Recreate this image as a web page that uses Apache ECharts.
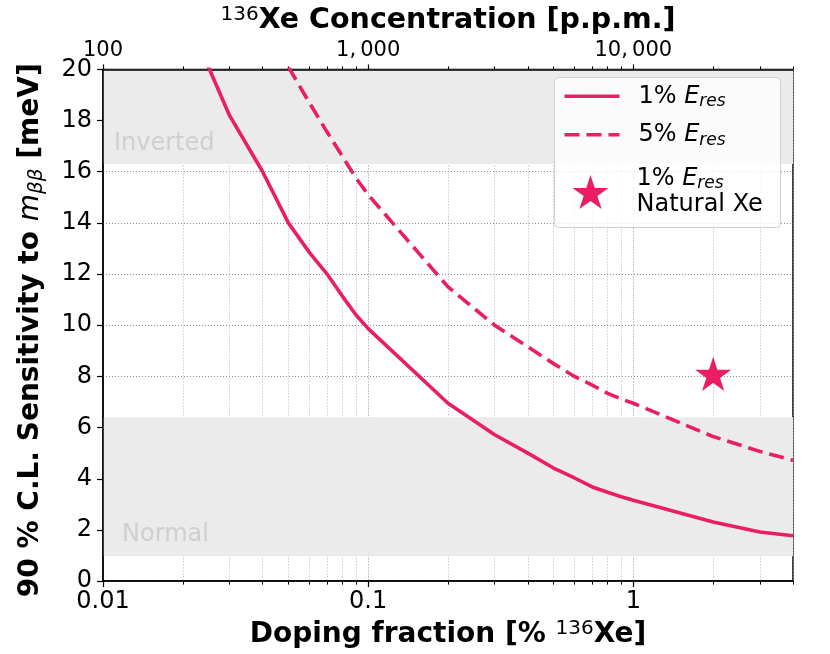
<!DOCTYPE html>
<html><head><meta charset="utf-8">
<script src="https://cdn.jsdelivr.net/npm/echarts@6/dist/echarts.min.js"></script>
<style>html,body{margin:0;padding:0;background:#fff}#c{width:830px;height:654px}</style>
</head><body><div id="c"></div>
<script>
// ---- data ----
const fractions1 = [0.02, 0.03, 0.04, 0.05, 0.06, 0.07, 0.08, 0.09, 0.1, 0.2, 0.3, 0.4, 0.5, 0.6, 0.7, 0.8, 0.9, 1, 2, 3, 4];
const sens1pct   = [22.4, 18.2, 16.0, 14.0, 12.85, 12.0, 11.13, 10.4, 9.87, 6.95, 5.72, 5.0, 4.42, 4.03, 3.68, 3.47, 3.3, 3.16, 2.31, 1.92, 1.77];
const fractions5 = [0.05, 0.06, 0.07, 0.08, 0.09, 0.1, 0.2, 0.3, 0.4, 0.5, 0.6, 0.7, 0.8, 0.9, 1, 2, 3, 4];
const sens5pct   = [20.1, 18.7, 17.55, 16.6, 15.75, 15.1, 11.5, 10.0, 9.16, 8.5, 8.0, 7.66, 7.34, 7.12, 6.95, 5.65, 5.07, 4.72];
const naturalXeFraction = [2];
const naturalXeSens = [8.1];
const seriesNames = ['1% Eres', '5% Eres', '1% Eres Natural Xe'];
const majorTicks = [0.01, 0.1, 1];
const minorTicks = [0.02, 0.03, 0.04, 0.05, 0.06, 0.07, 0.08, 0.09, 0.2, 0.3, 0.4, 0.5, 0.6, 0.7, 0.8, 0.9, 2, 3, 4];
const bandNames = ['Inverted', 'Normal'];
const bandFrom = [16.3, 0.97];
const bandTo = [20, 6.4];
const bandLabelX = [0.011, 0.0118];
const bandLabelY = [17.1, 1.8];

const PINK = '#E91E63';
const FONT = 'DejaVu Sans';

const xMin = 0.01, xMax = 4;

function fmtPpm(v) {
  const n = Math.round(v * 10000);
  return n.toLocaleString('en-US').replace(/,/g, ',\u2009');
}

const subRich = {
  n: { fontFamily: FONT, fontSize: 24, lineHeight: 28, color: '#000' },
  e: { fontFamily: FONT, fontSize: 24, lineHeight: 28, fontStyle: 'italic', color: '#000' },
  s: { fontFamily: FONT, fontSize: 17, lineHeight: 16, fontStyle: 'italic', verticalAlign: 'bottom', color: '#000' }
};
const subRich3 = {
  n: { fontFamily: FONT, fontSize: 24, lineHeight: 26, color: '#000' },
  e: { fontFamily: FONT, fontSize: 24, lineHeight: 26, fontStyle: 'italic', color: '#000' },
  s: { fontFamily: FONT, fontSize: 17, lineHeight: 14, fontStyle: 'italic', verticalAlign: 'bottom', color: '#000' }
};

const chart = echarts.init(document.getElementById('c'), null, { renderer: 'canvas' });

const gridLineMajor = { show: true, lineStyle: { color: '#8c8c8c', type: [1, 2], width: 1 } };
const gridLineMinor = { show: true, lineStyle: { color: '#b4b4b4', type: [1, 2], width: 1 } };

chart.setOption({
  animation: false,
  backgroundColor: '#fff',
  grid: { left: 103, right: 37, top: 63, bottom: 67, show: true, borderColor: '#000', borderWidth: 1.5, backgroundColor: 'transparent', z: 1 },
  xAxis: [
    { // bottom major
      type: 'log', logBase: 10, min: xMin, max: xMax, position: 'bottom', z: 1,
      axisLine: { show: true, lineStyle: { color: '#000', width: 1.5 } },
      axisTick: { show: true, inside: false, length: 6, customValues: majorTicks, lineStyle: { color: '#000', width: 1.2 } },
      axisLabel: { show: true, customValues: majorTicks, margin: 9, fontFamily: FONT, fontSize: 24, color: '#000', formatter: v => String(+v.toPrecision(6)) },
      splitLine: gridLineMajor,
      minorTick: { show: false }, minorSplitLine: { show: false },
      name: '{b|Doping fraction [% }{sup|136}{b|Xe]}', nameLocation: 'middle', nameGap: 32,
      nameTextStyle: { rich: {
        b: { fontFamily: FONT, fontSize: 28, fontWeight: 'bold', color: '#000', lineHeight: 32 },
        sup: { fontFamily: FONT, fontSize: 20, color: '#000', lineHeight: 22, verticalAlign: 'top' }
      } }
    },
    { // bottom minor
      type: 'log', logBase: 10, min: xMin, max: xMax, position: 'bottom', z: 1,
      axisLine: { show: false },
      axisTick: { show: true, inside: false, length: 3.5, customValues: minorTicks, lineStyle: { color: '#000', width: 1 } },
      axisLabel: { show: false },
      splitLine: gridLineMinor
    },
    { // top major
      type: 'log', logBase: 10, min: xMin, max: xMax, position: 'top', z: 1,
      axisLine: { show: true, lineStyle: { color: '#000', width: 1.5 } },
      axisTick: { show: true, inside: false, length: 5, customValues: majorTicks, lineStyle: { color: '#000', width: 1.2 } },
      axisLabel: { show: true, customValues: majorTicks, margin: 8, fontFamily: FONT, fontSize: 21, color: '#000', formatter: v => fmtPpm(v) },
      splitLine: { show: false },
      name: '{sup|136}{b|Xe Concentration [p.p.m.]}', nameLocation: 'middle', nameGap: 31,
      nameTextStyle: { rich: {
        b: { fontFamily: FONT, fontSize: 28.5, fontWeight: 'bold', color: '#000', lineHeight: 32 },
        sup: { fontFamily: FONT, fontSize: 20, color: '#000', lineHeight: 22, verticalAlign: 'top' }
      } }
    },
    { // top minor
      type: 'log', logBase: 10, min: xMin, max: xMax, position: 'top', z: 1,
      axisLine: { show: false },
      axisTick: { show: true, inside: false, length: 3, customValues: minorTicks, lineStyle: { color: '#000', width: 1 } },
      axisLabel: { show: false },
      splitLine: { show: false }
    }
  ],
  yAxis: [{
    type: 'value', min: 0, max: 20, interval: 2, z: 1,
    axisLine: { show: true, lineStyle: { color: '#000', width: 1.5 } },
    axisTick: { show: true, inside: false, length: 6, lineStyle: { color: '#000', width: 1.2 } },
    axisLabel: { margin: 11, fontFamily: FONT, fontSize: 24, color: '#000' },
    splitLine: gridLineMajor,
    name: '{b|90 % C.L. Sensitivity to }{i|m}{s|\u03b2\u03b2}{b| [meV]}', nameLocation: 'middle', nameGap: 56, nameRotate: 90,
    nameTextStyle: { padding: [0, 10, 0, 0], rich: {
      b: { fontFamily: FONT, fontSize: 28, fontWeight: 'bold', color: '#000', lineHeight: 32 },
      i: { fontFamily: FONT, fontSize: 28, fontStyle: 'italic', color: '#000', lineHeight: 32 },
      s: { fontFamily: FONT, fontSize: 20, fontStyle: 'italic', color: '#000', lineHeight: 18, verticalAlign: 'bottom' }
    } }
  }],
  legend: [
    {
      data: [seriesNames[0]], left: 562.7, top: 84.3, padding: 0, itemWidth: 55, itemHeight: 14, z: 10,
      itemStyle: { opacity: 0 }, lineStyle: { width: 3.6 },
      formatter: () => '{n|1% }{e|E}{s|res}',
      textStyle: { padding: [0, 0, 0, 14], rich: subRich }
    },
    {
      data: [seriesNames[1]], left: 562.7, top: 122.7, padding: 0, itemWidth: 55, itemHeight: 14, z: 10,
      itemStyle: { opacity: 0 }, lineStyle: { width: 3.6 },
      formatter: () => '{n|5% }{e|E}{s|res}',
      textStyle: { padding: [0, 0, 0, 14], rich: subRich }
    },
    {
      data: [seriesNames[2]], left: 572.5, top: 167, padding: 0, itemWidth: 36, itemHeight: 35, z: 10,
      itemStyle: { opacity: 1 },
      formatter: () => '{n|1% }{e|E}{s|res}\n{n|Natural Xe}',
      textStyle: { padding: [0, 0, 0, 23], rich: subRich3 }
    }
  ],
  graphic: [{
    type: 'rect', left: 554, top: 77, z: 5,
    shape: { width: 226, height: 150, r: 4 },
    style: { fill: 'rgba(255,255,255,0.8)', stroke: '#d0d0d0', lineWidth: 1 }
  }],
  series: [
    {
      type: 'line', name: 'bands', xAxisIndex: 0, yAxisIndex: 0, data: [], z: 0, silent: true,
      markArea: {
        silent: true,
        itemStyle: { color: '#ebebeb' },
        data: bandNames.map((n, i) => [{ yAxis: bandFrom[i] }, { yAxis: bandTo[i] }])
      }
    },
    {
      type: 'scatter', name: 'bandLabels', xAxisIndex: 0, yAxisIndex: 0, z: 2, silent: true,
      symbolSize: 0,
      data: bandNames.map((n, i) => ({ value: [bandLabelX[i], bandLabelY[i]], label: { formatter: n } })),
      label: { show: true, position: 'right', distance: 0, fontFamily: FONT, fontSize: 24, color: '#c8c8c8' }
    },
    {
      type: 'line', name: seriesNames[0], xAxisIndex: 0, yAxisIndex: 0, z: 3,
      data: fractions1.map((f, i) => [f, sens1pct[i]]),
      showSymbol: false, symbol: 'none', clip: true,
      lineStyle: { color: PINK, width: 3.6 }, itemStyle: { color: PINK }
    },
    {
      type: 'line', name: seriesNames[1], xAxisIndex: 0, yAxisIndex: 0, z: 3,
      data: fractions5.map((f, i) => [f, sens5pct[i]]),
      showSymbol: false, symbol: 'none', clip: true,
      lineStyle: { color: PINK, width: 3.6, type: [15, 7] }, itemStyle: { color: PINK }
    },
    {
      type: 'scatter', name: seriesNames[2], xAxisIndex: 0, yAxisIndex: 0, z: 4,
      data: naturalXeFraction.map((f, i) => [f, naturalXeSens[i]]),
      symbol: 'path://M0,-1L0.2245,-0.309L0.951,-0.309L0.363,0.118L0.588,0.809L0,0.382L-0.588,0.809L-0.363,0.118L-0.951,-0.309L-0.2245,-0.309Z',
      symbolSize: 36, symbolKeepAspect: true,
      itemStyle: { color: PINK, opacity: 1 }
    }
  ]
});
</script>
</body></html>
